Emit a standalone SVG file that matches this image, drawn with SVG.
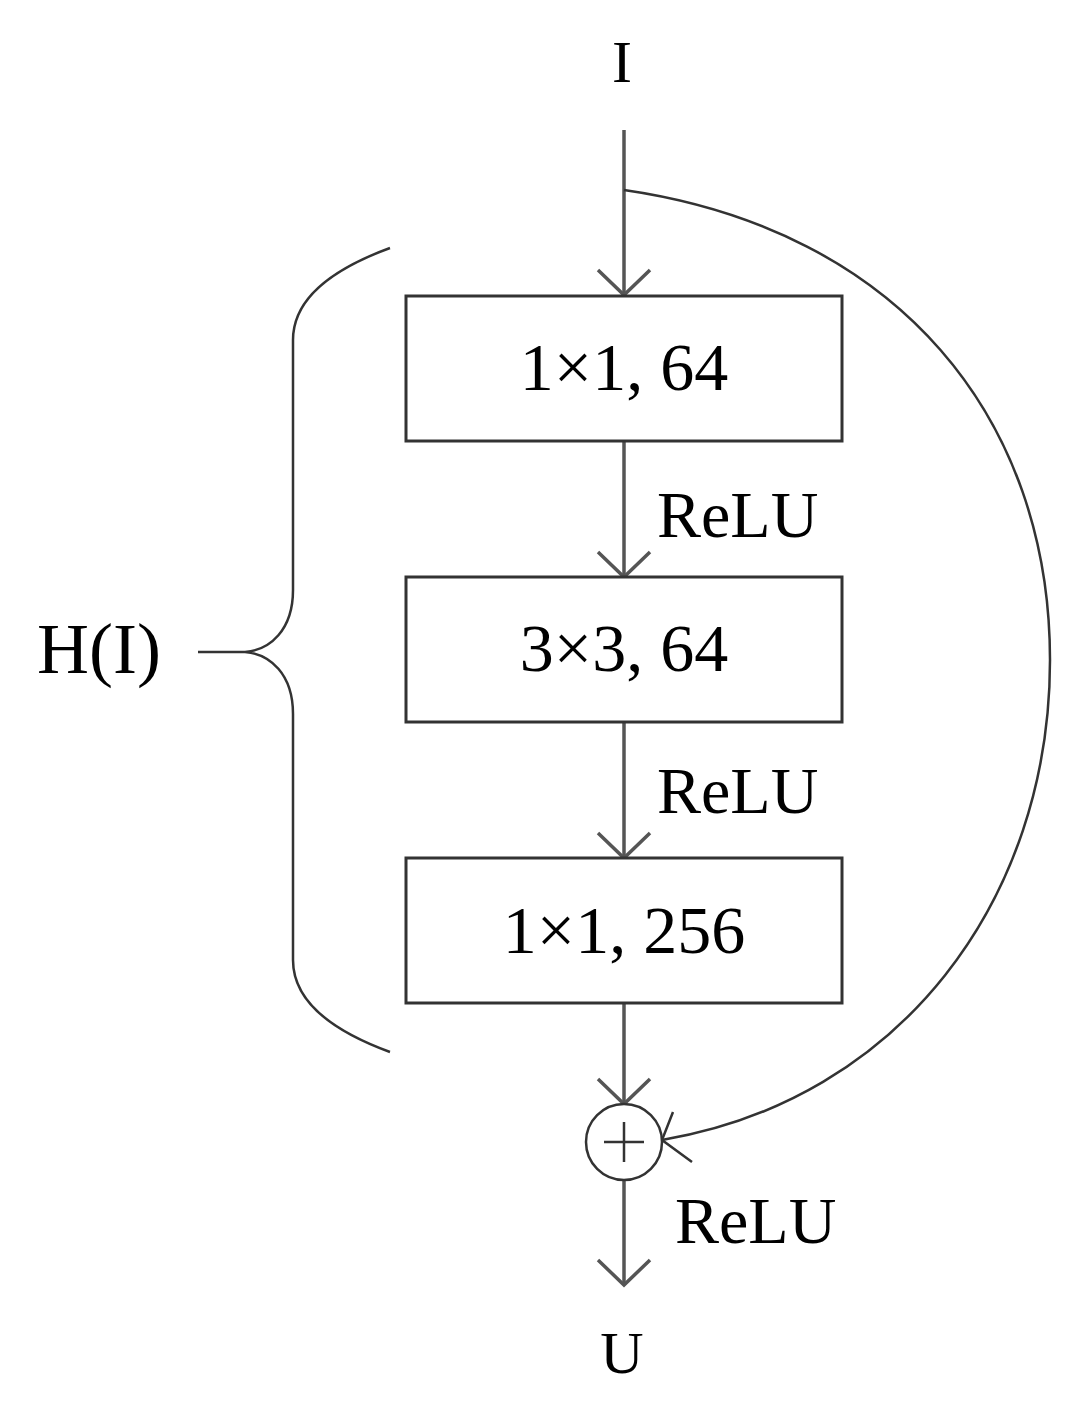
<svg xmlns="http://www.w3.org/2000/svg" width="1092" height="1409" viewBox="0 0 1092 1409">
<style>
.t{font-family:"Liberation Serif",serif;fill:#000}
.box{fill:#fff;stroke:#333;stroke-width:3}
.ln{fill:none;stroke:#555;stroke-width:3.5}
.thin{fill:none;stroke:#333;stroke-width:2.5}
</style>
<rect width="1092" height="1409" fill="#fff"/>
<g id="connectors">
<line class="ln" x1="624" y1="130" x2="624" y2="295"/>
<polyline class="ln" points="598,270 624,295 650,270"/>
<line class="ln" x1="624" y1="441" x2="624" y2="577"/>
<polyline class="ln" points="598,552 624,577 650,552"/>
<line class="ln" x1="624" y1="722" x2="624" y2="858"/>
<polyline class="ln" points="598,833 624,858 650,833"/>
<line class="ln" x1="624" y1="1003" x2="624" y2="1104"/>
<polyline class="ln" points="598,1079 624,1104 650,1079"/>
<line class="ln" x1="624" y1="1180" x2="624" y2="1285"/>
<polyline class="ln" points="598,1260 624,1285 650,1260"/>
<path class="thin" d="M624,190 C900,230 1050,420 1050,660 C1050,900 900,1100 662,1140"/>
<polyline class="thin" points="673,1112 662,1140 692,1162"/>
</g>
<g id="box1"><rect class="box" x="406" y="296" width="436" height="145"/><text class="t" x="624" y="390" font-size="68" text-anchor="middle">1×1, 64</text></g>
<g id="box2"><rect class="box" x="406" y="577" width="436" height="145"/><text class="t" x="624" y="671" font-size="68" text-anchor="middle">3×3, 64</text></g>
<g id="box3"><rect class="box" x="406" y="858" width="436" height="145"/><text class="t" x="624" y="953" font-size="68" text-anchor="middle">1×1, 256</text></g>
<g id="sum"><circle cx="624" cy="1142" r="38" fill="#fff" stroke="#333" stroke-width="2.5"/>
<line class="thin" x1="604" y1="1142" x2="644" y2="1142"/><line class="thin" x1="624" y1="1122" x2="624" y2="1162"/></g>
<g id="labels">
<text class="t" x="622" y="82" font-size="60" text-anchor="middle">I</text>
<text class="t" x="657" y="537" font-size="66">ReLU</text>
<text class="t" x="657" y="813" font-size="66">ReLU</text>
<text class="t" x="675" y="1243" font-size="66">ReLU</text>
<text class="t" x="622" y="1373" font-size="60" text-anchor="middle">U</text>
</g>
<g id="brace">
<path class="thin" d="M390,248 C330,270 293,300 293,340 L293,590 C293,630 270,650 245,652 C270,654 293,674 293,714 L293,960 C293,1000 330,1030 390,1052"/>
<line class="thin" x1="198" y1="652" x2="245" y2="652"/>
<text class="t" x="99" y="673" font-size="72" text-anchor="middle">H(I)</text>
</g>
</svg>
